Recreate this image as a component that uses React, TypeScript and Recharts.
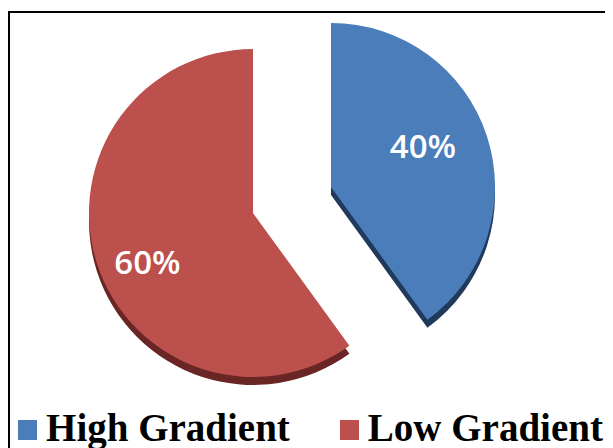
import React from "react";
import { PieChart, Pie, Cell, Legend } from "recharts";

const categories = ["High Gradient", "Low Gradient"];
const shares = [40, 60];
const faceColors = ["#4A7DB9", "#BC504D"];
const sideColors = ["#1F3A5C", "#6A2624"];

const data = categories.map((name, i) => ({ name, value: shares[i] }));

const W = 605;
const H = 440;
const R = 164;
const DEPTH = 8;
const blueCenter = { x: 323, y: 179 };
const redCenter = { x: 245, y: 205 };

const makeLabel = (visibleIndex: number, radius: number) => (props: any) => {
  const { cx, cy, midAngle, percent, index } = props;
  if (index !== visibleIndex) return null;
  const a = ((midAngle + 6.5) * Math.PI) / 180;
  const x = cx + radius * Math.cos(-a);
  const y = cy + radius * Math.sin(-a);
  return (
    <text
      x={x}
      y={y}
      fill="#ffffff"
      textAnchor="middle"
      dominantBaseline="central"
      style={{ fontFamily: "'Open Sans', sans-serif", fontWeight: 600, fontSize: 33 }}
    >
      {`${Math.round(percent * 100)}%`}
    </text>
  );
};

const LegendContent = () => (
  <div
    style={{
      display: "flex",
      alignItems: "center",
      justifyContent: "center",
      fontFamily: "'Liberation Serif', 'Times New Roman', serif",
      fontWeight: 700,
      fontSize: 39,
      color: "#000",
      lineHeight: "40px",
      whiteSpace: "nowrap",
    }}
  >
    {categories.map((c, i) => (
      <div
        key={c}
        style={{ display: "flex", alignItems: "center", marginRight: i === 0 ? 50 : 0 }}
      >
        <span
          style={{
            display: "inline-block",
            width: 19,
            height: 20,
            background: faceColors[i],
            marginRight: 9,
            marginTop: 4,
          }}
        />
        <span>{c}</span>
      </div>
    ))}
  </div>
);

export default function App() {
  return (
    <div style={{ position: "relative", width: W, height: H, overflow: "hidden", background: "#fff" }}>
      <div
        style={{
          position: "absolute",
          left: 0,
          top: 3,
          width: W + 20,
          height: H + 20,
          borderTop: "2px solid #000",
          borderLeft: "2px solid #000",
          boxSizing: "border-box",
        }}
      />
      <div style={{ position: "absolute", left: 0, top: 0 }}>
        <PieChart width={W} height={H} margin={{ top: 0, right: 0, bottom: 0, left: 0 }}>
          {/* 3D side faces */}
          <Pie
            data={data}
            dataKey="value"
            nameKey="name"
            cx={blueCenter.x}
            cy={blueCenter.y + DEPTH}
            outerRadius={R}
            startAngle={90}
            endAngle={-270}
            stroke="none"
            isAnimationActive={false}
            legendType="none"
          >
            <Cell fill={sideColors[0]} />
            <Cell fill="transparent" />
          </Pie>
          <Pie
            data={data}
            dataKey="value"
            nameKey="name"
            cx={redCenter.x}
            cy={redCenter.y + DEPTH}
            outerRadius={R}
            startAngle={90}
            endAngle={-270}
            stroke="none"
            isAnimationActive={false}
            legendType="none"
          >
            <Cell fill="transparent" />
            <Cell fill={sideColors[1]} />
          </Pie>
          {/* top faces */}
          <Pie
            data={data}
            dataKey="value"
            nameKey="name"
            cx={blueCenter.x}
            cy={blueCenter.y}
            outerRadius={R}
            startAngle={90}
            endAngle={-270}
            stroke="none"
            isAnimationActive={false}
            labelLine={false}
            label={makeLabel(0, 101)}
            legendType="none"
          >
            <Cell fill={faceColors[0]} />
            <Cell fill="transparent" />
          </Pie>
          <Pie
            data={data}
            dataKey="value"
            nameKey="name"
            cx={redCenter.x}
            cy={redCenter.y}
            outerRadius={R}
            startAngle={90}
            endAngle={-270}
            stroke="none"
            isAnimationActive={false}
            labelLine={false}
            label={makeLabel(1, 116)}
            legendType="none"
          >
            <Cell fill="transparent" />
            <Cell fill={faceColors[1]} />
          </Pie>
          <Legend
            verticalAlign="bottom"
            content={<LegendContent />}
            wrapperStyle={{ left: 0, width: W, bottom: 0 }}
          />
        </PieChart>
      </div>
    </div>
  );
}
